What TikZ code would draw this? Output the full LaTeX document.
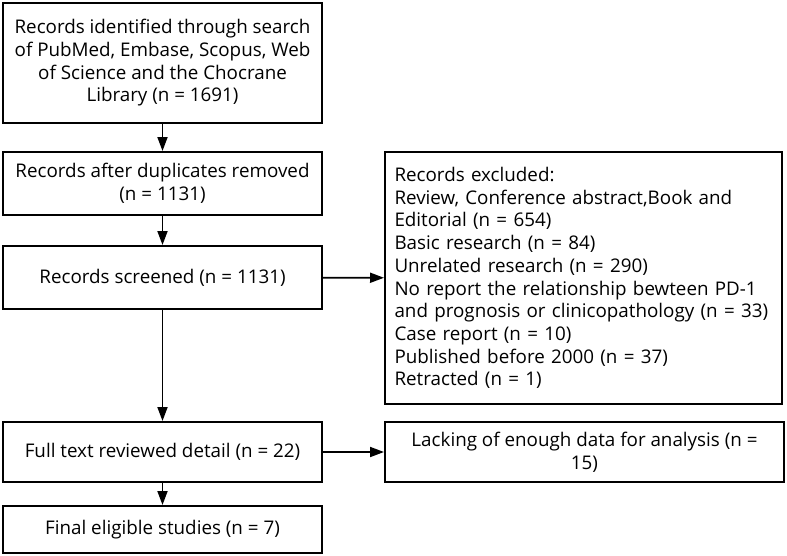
\documentclass[tikz,border=0pt]{standalone}
\usepackage{fontspec}
\setmainfont{Open Sans}
\usetikzlibrary{arrows.meta}

\begin{document}
\begin{tikzpicture}[
  x=1pt, y=-1pt,
  line width=1.8,
  box/.style={draw, line width=2, minimum width=319, align=center,
    inner sep=0, font=\fontsize{18.8}{22.7}\selectfont},
  arr/.style={-{Triangle[length=14, width=10]}},
]
\useasboundingbox (0,0) rectangle (787,555);
% linke Spalte
\node[box, minimum height=120] (ident) at (162.5,63)
  {Records identified through search\\of PubMed, Embase, Scopus, Web\\of Science and the Chocrane\\Library (n = 1691)};
\node[box, minimum height=63] (dupl) at (162.5,183.5)
  {Records after duplicates removed\\(n = 1131)};
\node[box, minimum height=63] (screen) at (162.5,277.5)
  {Records screened (n = 1131)};
\node[box, minimum height=60] (full) at (162.5,452)
  {Full text reviewed detail (n = 22)};
\node[box, minimum height=47] (final) at (162.5,529.5)
  {Final eligible studies (n = 7)};
% rechte Spalte
\node[box, minimum width=397, minimum height=252, align=left, text width=378] (excl) at (583.5,278)
  {Records excluded:\\
   Review, Conference abstract,Book and\\
   Editorial (n = 654)\\
   Basic research (n = 84)\\
   Unrelated research (n = 290)\\
   No report the relationship bewteen PD-1\\
   and prognosis or clinicopathology (n = 33)\\
   Case report (n = 10)\\
   Published before 2000 (n = 37)\\
   Retracted (n = 1)};
\node[box, minimum width=399, minimum height=60] (lack) at (584.5,452)
  {Lacking of enough data for analysis (n =\\15)};

\draw[arr] (ident) -- (dupl);
\draw[arr] (dupl) -- (screen);
\draw[arr] (screen) -- (full);
\draw[arr] (full) -- (final);
\draw[arr] (screen) -- (excl);
\draw[arr] (full) -- (lack);
\end{tikzpicture}
\end{document}
